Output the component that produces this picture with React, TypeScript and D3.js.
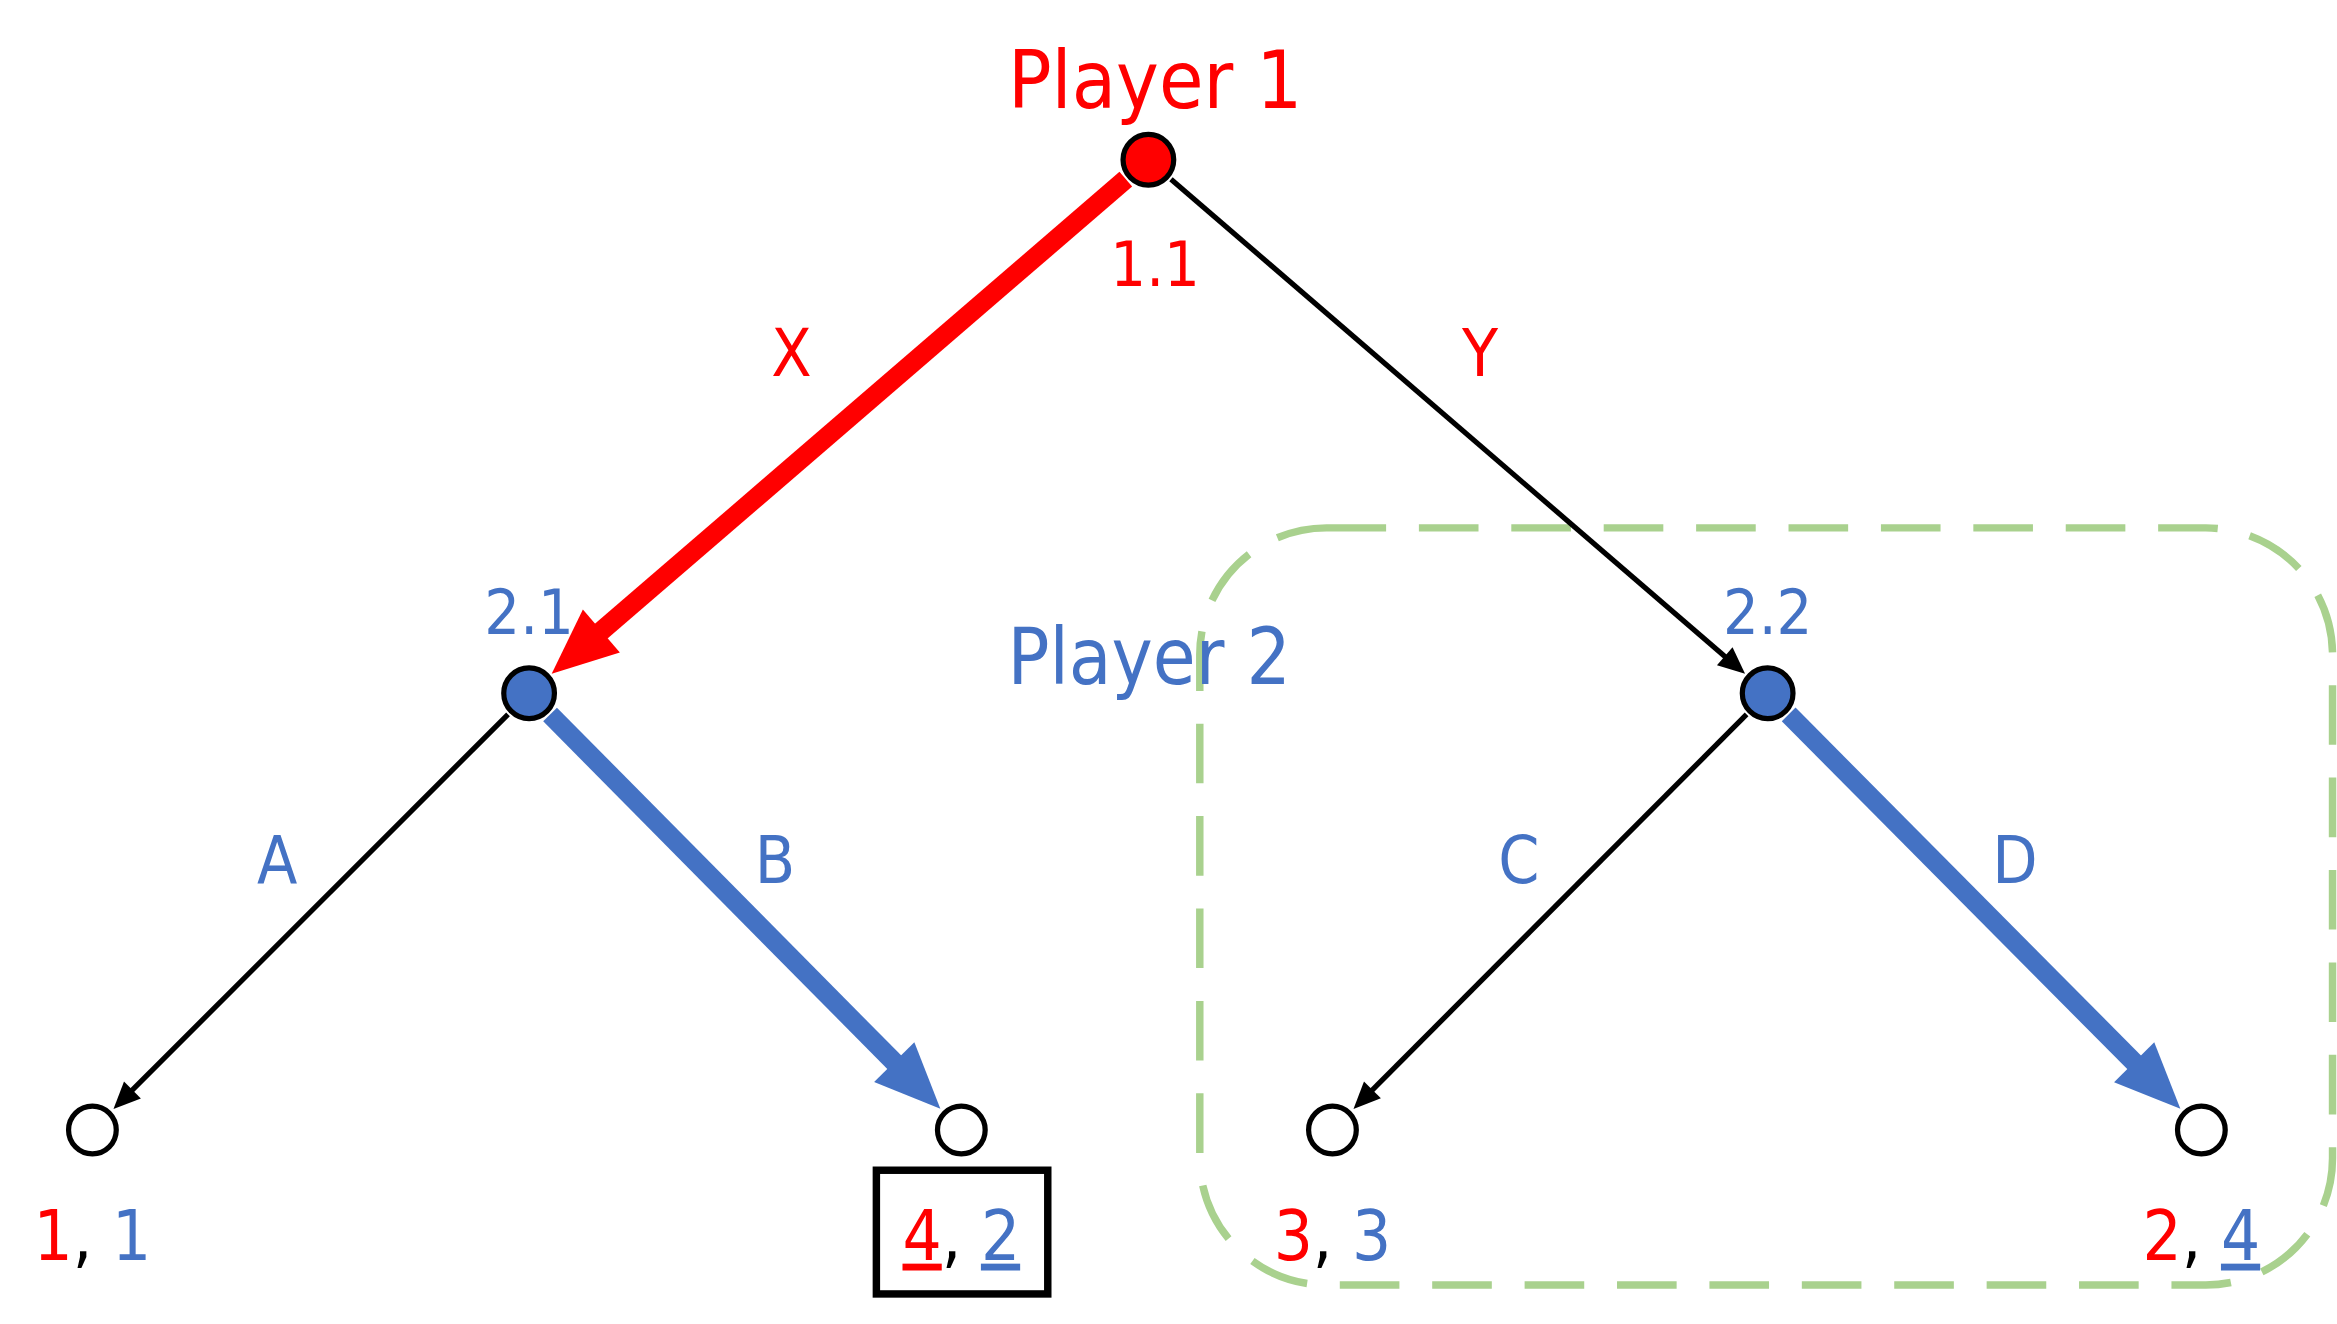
import * as d3 from "d3"

const FONT = "'Liberation Sans Narrow', 'DejaVu Sans Condensed', 'Noto Sans', sans-serif"
const RED = "#FF0000"
const BLUE = "#4472C4"

// tree positions (tree units: depth 0..2, column across)
const nodes = [
  { id: "1.1", col: 0.5, depth: 0, fill: RED },
  { id: "2.1", col: 0.0, depth: 1, fill: BLUE },
  { id: "2.2", col: 1.0, depth: 1, fill: BLUE },
  { id: "L1", col: -0.5, depth: 2, fill: "#fff" },
  { id: "L2", col: 0.35, depth: 2, fill: "#fff" },
  { id: "L3", col: 0.65, depth: 2, fill: "#fff" },
  { id: "L4", col: 1.5, depth: 2, fill: "#fff" },
]
const edges = [
  { from: "1.1", to: "2.1", label: "X", color: RED, chosen: true },
  { from: "1.1", to: "2.2", label: "Y", color: RED, chosen: false },
  { from: "2.1", to: "L1", label: "A", color: BLUE, chosen: false },
  { from: "2.1", to: "L2", label: "B", color: BLUE, chosen: true },
  { from: "2.2", to: "L3", label: "C", color: BLUE, chosen: false },
  { from: "2.2", to: "L4", label: "D", color: BLUE, chosen: true },
]
const payoffs = [
  { leaf: "L1", p1: "1", p2: "1", u1: false, u2: false },
  { leaf: "L2", p1: "4", p2: "2", u1: true, u2: true },
  { leaf: "L3", p1: "3", p2: "3", u1: false, u2: false },
  { leaf: "L4", p1: "2", p2: "4", u1: false, u2: true },
]
const edgeLabelPos = [
  [531, 252], [993, 252], [186, 592], [520, 592], [1019, 592], [1352, 592],
]

export default function App() {
  const x = d3.scaleLinear().domain([0, 1]).range([355, 1186])
  const xl = d3.scaleOrdinal<string, number>().domain(["L1", "L2", "L3", "L4"]).range([62, 645, 894, 1477])
  const y = d3.scaleLinear().domain([0, 1, 2]).range([107, 465, 758])
  const pos = (id: string) => {
    const n = nodes.find((d) => d.id === id)!
    return { x: n.depth === 2 ? xl(id) : x(n.col), y: y(n.depth), n }
  }

  return (
    <svg width={2337} height={1324} viewBox="0 0 1568 888"
      style={{ position: "absolute", left: 0, top: 0, background: "#fff" }}>
      <rect x={805} y={354} width={760} height={508} rx={85} fill="none"
        stroke="#A9D18E" strokeWidth={5} strokeDasharray="40 22" />
      {edges.map((e, i) => {
        const a = pos(e.from), b = pos(e.to)
        const dx = b.x - a.x, dy = b.y - a.y, len = Math.hypot(dx, dy)
        const ux = dx / len, uy = dy / len
        const w = e.chosen ? 13 : 3.5
        const L = e.chosen ? 44 : 18, W = e.chosen ? 38 : 16
        const color = e.chosen ? e.color : "#000"
        const tip = { x: b.x - ux * 20, y: b.y - uy * 20 }
        const base = { x: tip.x - ux * L, y: tip.y - uy * L }
        const px = -uy, py = ux
        const sx = a.x + ux * 20, sy = a.y + uy * 20
        return (
          <g key={i}>
            <line x1={sx} y1={sy} x2={base.x + ux * 4} y2={base.y + uy * 4} stroke={color} strokeWidth={w} />
            <polygon fill={color}
              points={`${tip.x},${tip.y} ${base.x + px * W / 2},${base.y + py * W / 2} ${base.x - px * W / 2},${base.y - py * W / 2}`} />
            <text x={edgeLabelPos[i][0]} y={edgeLabelPos[i][1]} fill={e.color} fontFamily={FONT}
              fontSize={44} textAnchor="middle">{e.label}</text>
          </g>
        )
      })}
      {nodes.map((n) => {
        const p = pos(n.id)
        return <circle key={n.id} cx={p.x} cy={p.y} r={n.depth === 2 ? 16 : 17} fill={n.fill} stroke="#000" strokeWidth={3.5} />
      })}
      <text x={775} y={72} fill={RED} fontFamily={FONT} fontSize={54} textAnchor="middle">Player 1</text>
      <text x={775} y={192} fill={RED} fontFamily={FONT} fontSize={42} textAnchor="middle">1.1</text>
      <text x={355} y={425} fill={BLUE} fontFamily={FONT} fontSize={42} textAnchor="middle">2.1</text>
      <text x={1186} y={425} fill={BLUE} fontFamily={FONT} fontSize={42} textAnchor="middle">2.2</text>
      <text x={771} y={459} fill={BLUE} fontFamily={FONT} fontSize={52} textAnchor="middle">Player 2</text>
      <rect x={588} y={785} width={115} height={83} fill="none" stroke="#000" strokeWidth={5} />
      {payoffs.map((p) => (
        <text key={p.leaf} x={xl(p.leaf)} y={845} fontFamily={FONT} fontSize={46} textAnchor="middle">
          <tspan fill={RED} textDecoration={p.u1 ? "underline" : undefined}>{p.p1}</tspan>
          <tspan fill="#000">, </tspan>
          <tspan fill={BLUE} textDecoration={p.u2 ? "underline" : undefined}>{p.p2}</tspan>
        </text>
      ))}
    </svg>
  )
}
